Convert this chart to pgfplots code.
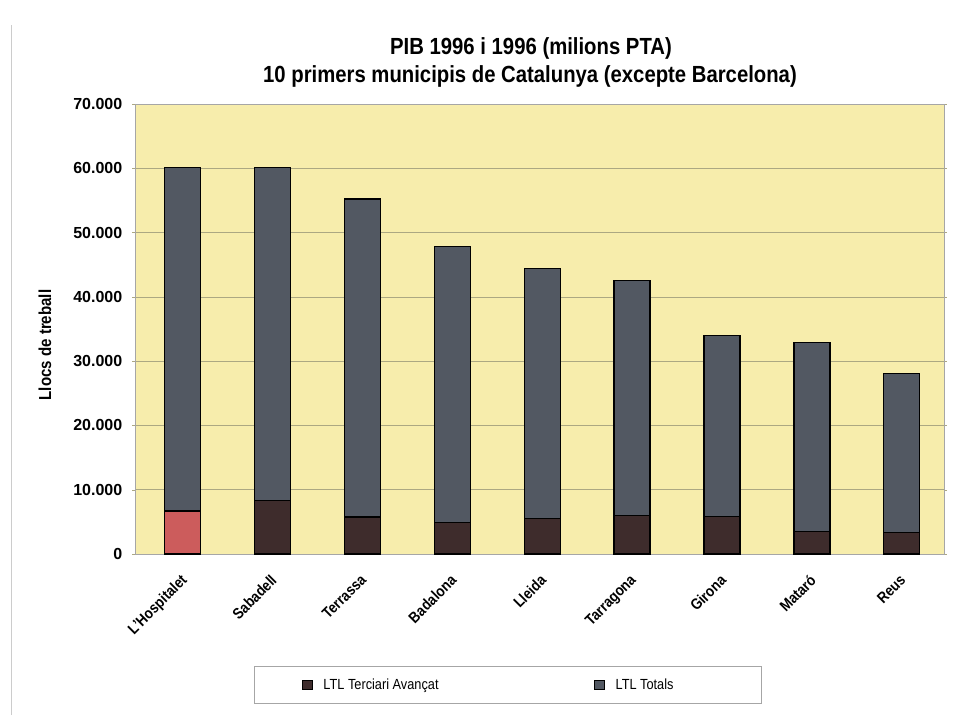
\documentclass[border=0pt]{standalone}
\usepackage{fontspec}
\setmainfont{Liberation Sans}[FakeStretch=0.87]
\newfontfamily\widefont{Liberation Sans}
\usepackage{pgfplots}
\pgfplotsset{compat=1.18}

\definecolor{bgc}{RGB}{247,237,172}
\definecolor{totc}{RGB}{82,88,98}
\definecolor{terc}{RGB}{62,44,44}
\definecolor{redc}{RGB}{204,92,92}
\definecolor{gridc}{RGB}{172,168,130}

% the plot box's lower left corner is the origin; 1px of the reference = 0.75pt
\begin{document}
\begin{tikzpicture}
\begin{axis}[
  at={(0pt,0pt)}, anchor=south west,
  scale only axis,
  width=606.75pt, height=337.5pt,
  xmin=-0.53, xmax=8.47,
  ymin=0, ymax=70000,
  ytick={0,10000,...,70000},
  scaled y ticks=false,
  yticklabel style={/pgf/number format/1000 sep={.}, /pgf/number format/assume math mode=true},
  xtick={0,...,8},
  xticklabels={L'Hospitalet,Sabadell,Terrassa,Badalona,Lleida,Tarragona,Girona,Mataró,Reus},
  x tick label style={rotate=45, anchor=north east, font=\bfseries\fontsize{11.5}{13}\selectfont, xshift=-7pt, yshift=-4pt},
  y tick label style={font=\widefont\bfseries\fontsize{12}{14}\selectfont, xshift=-4pt},
  xtick style={draw=none},
  ytick style={draw=gridc},
  tick align=outside,
  major tick length=2pt,
  ymajorgrids,
  grid style={gridc, line width=0.5pt},
  axis line style={draw=gray!70},
  axis background/.style={fill=bgc},
  legend columns=2,
  legend style={
    at={(0.4604,-0.291)}, anchor=center,
    draw=gray!70, inner xsep=36pt, inner ysep=7pt,
    font=\fontsize{11}{13}\selectfont,
  },
  legend cell align=left,
  legend image code/.code={
    \draw[#1] (0pt,-3.7pt) rectangle (7.5pt,3.7pt);
    \path (13.5pt,0pt);
  },
]
\addlegendimage{fill=terc, draw=black, line width=0.6pt}
\addlegendentry{\makebox[201pt][l]{LTL Terciari Avançat}}
\addlegendimage{fill=totc, draw=black, line width=0.6pt}
\addlegendentry{\makebox[71pt][l]{LTL Totals}}

% LTL Totals
\addplot[ybar, bar width=27pt, bar shift=0pt, fill=totc, draw=black, line width=1pt, forget plot]
  coordinates {
    (0,60100) (1,60100) (2,55200) (3,47800) (4,44400)
    (5,42500) (6,34000) (7,32950) (8,28100)
  };

% LTL Terciari Avançat
\addplot[ybar, bar width=27pt, bar shift=0pt, fill=redc, draw=black, line width=1pt, forget plot]
  coordinates {(0,6700)};
\addplot[ybar, bar width=27pt, bar shift=0pt, fill=terc, draw=black, line width=1pt, forget plot]
  coordinates {
    (1,8350) (2,5750) (3,4900) (4,5500)
    (5,6000) (6,5800) (7,3550) (8,3300)
  };
\end{axis}

\begin{scope}[x=0.75pt,y=0.75pt,shift={(-101.25pt,-120.75pt)}]
\useasboundingbox (0,0) rectangle (962,715);
\draw[gray!40, line width=0.6pt] (11,0) -- (11,690);
\node[font=\bfseries\fontsize{17.5}{20}\selectfont] at (531,667) {PIB 1996 i 1996 (milions PTA)};
\node[font=\bfseries\fontsize{17.5}{20}\selectfont] at (530,639) {10 primers municipis de Catalunya (excepte Barcelona)};
\node[font=\bfseries\fontsize{13}{15}\selectfont, rotate=90] at (45,370) {Llocs de treball};
\end{scope}
\end{tikzpicture}
\end{document}
